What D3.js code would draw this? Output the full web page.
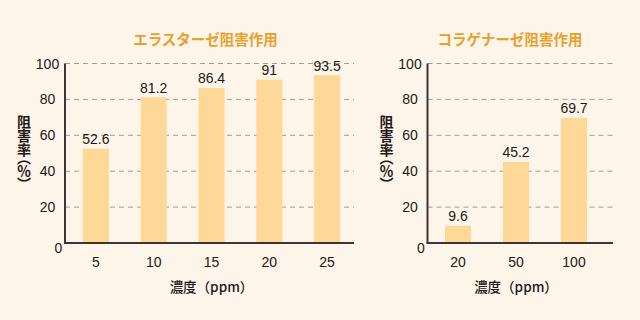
<!DOCTYPE html>
<html lang="ja">
<head>
<meta charset="UTF-8">
<title>阻害作用</title>
<script src="https://d3js.org/d3.v7.min.js"></script>
<style>
  html, body { margin: 0; padding: 0; background: #fdf5e9; }
  svg { display: block; }
  .num { font-family: "Liberation Sans", Arial, sans-serif; font-size: 14px; fill: #231815; }
  .jp { font-family: "Noto Sans CJK JP", sans-serif; }
  .vert { writing-mode: vertical-rl; font-feature-settings: "vpal" 1; }
</style>
</head>
<body>
<svg id="chart" width="640" height="320"></svg>
<script>
// elastase
const elastaseCats = ["5", "10", "15", "20", "25"];
const elastaseVals = [52.6, 81.2, 86.4, 91, 93.5];
// collagenase
const collagenaseCats = ["20", "50", "100"];
const collagenaseVals = [9.6, 45.2, 69.7];

const yTicks = [0, 20, 40, 60, 80, 100];
const titles = ["エラスターゼ阻害作用", "コラゲナーゼ阻害作用"];
const xTitle = "濃度（ppm）";
const yTitle = "阻害率（％）";

const svg = d3.select("#chart");
svg.append("rect").attr("width", 640).attr("height", 320).attr("fill", "#fdf5e9");

const y = d3.scaleLinear().domain([0, 100]).range([243, 63.5]);

function drawPanel(cats, vals, title, x0, x1, bandRange) {
  const g = svg.append("g");
  const x = d3.scaleBand().domain(cats).range(bandRange).paddingInner(0.55).paddingOuter(0.275);

  // grid
  g.selectAll("line.grid")
    .data(yTicks.filter(d => d > 0))
    .enter().append("line")
    .attr("x1", x0).attr("x2", x1)
    .attr("y1", d => y(d)).attr("y2", d => y(d))
    .attr("stroke", "#a39a92")
    .attr("stroke-width", 1)
    .attr("stroke-dasharray", "5,4");

  // bars
  g.selectAll("rect.bar")
    .data(vals)
    .enter().append("rect")
    .attr("x", (d, i) => x(cats[i]))
    .attr("width", x.bandwidth())
    .attr("y", d => y(d))
    .attr("height", d => y(0) - y(d))
    .attr("fill", "#fdd897");

  // value labels
  g.selectAll("text.val")
    .data(vals)
    .enter().append("text")
    .attr("class", "num")
    .attr("x", (d, i) => x(cats[i]) + x.bandwidth() / 2)
    .attr("y", d => y(d) - 4.5)
    .attr("text-anchor", "middle")
    .text(d => d);

  // axes lines
  g.append("line")
    .attr("x1", x0).attr("x2", x0)
    .attr("y1", y(100)).attr("y2", y(0))
    .attr("stroke", "#3e3431").attr("stroke-width", 2);
  g.append("line")
    .attr("x1", x0 - 1).attr("x2", x1)
    .attr("y1", y(0)).attr("y2", y(0))
    .attr("stroke", "#3e3431").attr("stroke-width", 2);

  // y tick labels
  g.selectAll("text.ytick")
    .data(yTicks)
    .enter().append("text")
    .attr("class", "num")
    .attr("x", d => d === 0 ? x0 - 6.5 : x0 - 17.5)
    .attr("y", d => d === 0 ? y(d) + 10 : y(d) + 5)
    .attr("text-anchor", "middle")
    .text(d => d);

  // x tick labels
  g.selectAll("text.xtick")
    .data(cats)
    .enter().append("text")
    .attr("class", "num")
    .attr("x", d => x(d) + x.bandwidth() / 2)
    .attr("y", 266.5)
    .attr("text-anchor", "middle")
    .text(d => d);

  const cx = (bandRange[0] + bandRange[1]) / 2;

  // x title
  g.append("text")
    .attr("class", "jp")
    .attr("x", cx)
    .attr("y", 292)
    .attr("text-anchor", "middle")
    .attr("font-size", 13.5)
    .attr("font-weight", 500)
    .attr("fill", "#231815")
    .text(xTitle);

  // title
  g.append("text")
    .attr("class", "jp")
    .attr("x", cx - 6)
    .attr("y", 45)
    .attr("text-anchor", "middle")
    .attr("font-size", 14.5)
    .attr("font-weight", 700)
    .attr("fill", "#e9a02c")
    .text(title);

  // y title (vertical)
  g.append("text")
    .attr("class", "jp vert")
    .attr("x", x0 - 41)
    .attr("y", 115)
    .attr("font-size", 14)
    .attr("font-weight", 700)
    .attr("fill", "#231815")
    .text(yTitle);
}

drawPanel(elastaseCats, elastaseVals, titles[0], 65, 354, [67, 356]);
drawPanel(collagenaseCats, collagenaseVals, titles[1], 427.5, 613, [429, 603]);
</script>
</body>
</html>
